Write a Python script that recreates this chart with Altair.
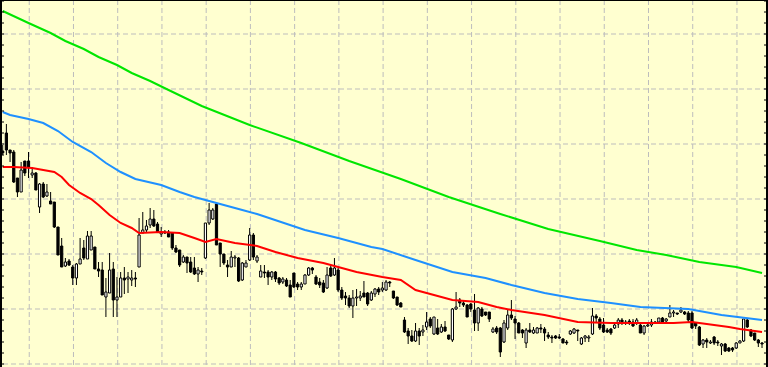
import altair as alt
import pandas as pd

# OHLC prices, one entry per bar (left to right)
opens = [1.2213,1.2231,1.2214,1.2212,1.2186,1.2172,1.2203,1.2203,1.2189,1.2191,
         1.2157,1.2180,1.2168,1.2163,1.2162,1.2137,1.2118,1.2098,1.2103,1.2097,
         1.2086,1.2100,1.2116,1.2105,1.2114,1.2117,1.2095,1.2094,1.2067,1.2071,
         1.2095,1.2064,1.2067,1.2086,1.2085,1.2084,1.2086,1.2097,1.2131,1.2134,
         1.2139,1.2145,1.2140,1.2130,1.2132,1.2132,1.2131,1.2116,1.2114,1.2102,
         1.2107,1.2102,1.2096,1.2090,1.2093,1.2106,1.2141,1.2145,1.2160,1.2121,
         1.2110,1.2099,1.2097,1.2106,1.2106,1.2084,1.2097,1.2104,1.2129,1.2103,
         1.2087,1.2092,1.2092,1.2087,1.2092,1.2086,1.2082,1.2084,1.2079,1.2091,
         1.2080,1.2077,1.2080,1.2089,1.2096,1.2087,1.2082,1.2081,1.2076,1.2096,
         1.2089,1.2094,1.2074,1.2068,1.2066,1.2058,1.2066,1.2066,1.2071,1.2071,
         1.2064,1.2070,1.2075,1.2074,1.2074,1.2082,1.2073,1.2067,1.2061,1.2044,
         1.2033,1.2028,1.2023,1.2033,1.2032,1.2037,1.2045,1.2030,1.2036,1.2032,
         1.2037,1.2029,1.2024,1.2055,1.2064,1.2061,1.2059,1.2060,1.2054,1.2041,
         1.2055,1.2052,1.2052,1.2032,1.2036,1.2036,1.2022,1.2036,1.2049,1.2045,
         1.2041,1.2034,1.2021,1.2034,1.2031,1.2031,1.2036,1.2035,1.2029,1.2027,
         1.2028,1.2027,1.2025,1.2022,1.2030,1.2031,1.2034,1.2020,1.2026,1.2026,
         1.2030,1.2048,1.2045,1.2039,1.2034,1.2035,1.2036,1.2040,1.2044,1.2041,
         1.2043,1.2042,1.2041,1.2039,1.2031,1.2038,1.2039,1.2042,1.2042,1.2046,
         1.2043,1.2047,1.2051,1.2051,1.2052,1.2052,1.2051,1.2051,1.2041,1.2037,
         1.2020,1.2024,1.2021,1.2027,1.2022,1.2018,1.2020,1.2016,1.2016,1.2016,
         1.2021,1.2023,1.2044,1.2034,1.2031,1.2024,1.2021]
highs = [1.2219,1.2240,1.2214,1.2214,1.2186,1.2202,1.2203,1.2212,1.2197,1.2192,
         1.2181,1.2182,1.2180,1.2172,1.2162,1.2137,1.2126,1.2106,1.2105,1.2099,
         1.2101,1.2126,1.2124,1.2133,1.2133,1.2117,1.2102,1.2102,1.2086,1.2111,
         1.2102,1.2087,1.2092,1.2097,1.2092,1.2094,1.2092,1.2146,1.2152,1.2144,
         1.2156,1.2154,1.2142,1.2137,1.2134,1.2134,1.2132,1.2119,1.2114,1.2109,
         1.2107,1.2107,1.2107,1.2097,1.2096,1.2141,1.2161,1.2156,1.2161,1.2121,
         1.2110,1.2104,1.2113,1.2109,1.2107,1.2102,1.2104,1.2136,1.2131,1.2109,
         1.2099,1.2099,1.2094,1.2093,1.2093,1.2087,1.2087,1.2086,1.2084,1.2091,
         1.2082,1.2082,1.2090,1.2097,1.2097,1.2089,1.2086,1.2084,1.2097,1.2099,
         1.2106,1.2096,1.2077,1.2072,1.2069,1.2074,1.2075,1.2073,1.2083,1.2072,
         1.2073,1.2076,1.2077,1.2082,1.2084,1.2083,1.2073,1.2067,1.2062,1.2047,
         1.2036,1.2034,1.2041,1.2036,1.2039,1.2052,1.2047,1.2047,1.2045,1.2040,
         1.2043,1.2029,1.2056,1.2072,1.2066,1.2064,1.2060,1.2061,1.2070,1.2057,
         1.2057,1.2052,1.2052,1.2037,1.2038,1.2037,1.2044,1.2054,1.2064,1.2048,
         1.2042,1.2035,1.2036,1.2041,1.2037,1.2037,1.2040,1.2037,1.2032,1.2029,
         1.2029,1.2030,1.2026,1.2024,1.2034,1.2036,1.2034,1.2027,1.2029,1.2029,
         1.2056,1.2050,1.2047,1.2046,1.2036,1.2036,1.2041,1.2046,1.2046,1.2044,
         1.2045,1.2045,1.2046,1.2041,1.2039,1.2041,1.2045,1.2043,1.2046,1.2047,
         1.2046,1.2059,1.2054,1.2051,1.2057,1.2053,1.2053,1.2053,1.2042,1.2038,
         1.2025,1.2026,1.2024,1.2028,1.2024,1.2021,1.2021,1.2017,1.2017,1.2022,
         1.2024,1.2045,1.2045,1.2035,1.2031,1.2025,1.2022]
lows = [1.2209,1.2209,1.2202,1.2181,1.2167,1.2172,1.2188,1.2186,1.2186,1.2174,
        1.2151,1.2166,1.2167,1.2160,1.2136,1.2109,1.2097,1.2097,1.2098,1.2079,
        1.2079,1.2100,1.2104,1.2105,1.2114,1.2095,1.2087,1.2069,1.2047,1.2071,
        1.2047,1.2047,1.2067,1.2070,1.2071,1.2078,1.2077,1.2097,1.2131,1.2132,
        1.2136,1.2137,1.2131,1.2127,1.2130,1.2127,1.2114,1.2111,1.2097,1.2101,
        1.2091,1.2091,1.2089,1.2082,1.2089,1.2105,1.2139,1.2144,1.2119,1.2097,
        1.2099,1.2087,1.2097,1.2097,1.2082,1.2083,1.2097,1.2103,1.2104,1.2101,
        1.2087,1.2086,1.2079,1.2084,1.2082,1.2079,1.2080,1.2077,1.2067,1.2076,
        1.2074,1.2074,1.2080,1.2088,1.2090,1.2079,1.2076,1.2071,1.2075,1.2087,
        1.2088,1.2072,1.2064,1.2059,1.2056,1.2046,1.2058,1.2063,1.2067,1.2058,
        1.2063,1.2067,1.2069,1.2072,1.2073,1.2077,1.2065,1.2058,1.2057,1.2031,
        1.2020,1.2022,1.2022,1.2019,1.2028,1.2034,1.2036,1.2029,1.2029,1.2031,
        1.2032,1.2024,1.2022,1.2054,1.2057,1.2057,1.2047,1.2052,1.2033,1.2033,
        1.2047,1.2048,1.2042,1.2031,1.2030,1.2007,1.2021,1.2034,1.2044,1.2025,
        1.2031,1.2026,1.2016,1.2031,1.2030,1.2031,1.2031,1.2023,1.2025,1.2021,
        1.2025,1.2025,1.2021,1.2019,1.2029,1.2030,1.2023,1.2019,1.2022,1.2022,
        1.2029,1.2042,1.2034,1.2031,1.2031,1.2029,1.2035,1.2036,1.2039,1.2039,
        1.2039,1.2037,1.2039,1.2031,1.2029,1.2037,1.2037,1.2041,1.2041,1.2041,
        1.2042,1.2047,1.2047,1.2049,1.2051,1.2049,1.2042,1.2035,1.2035,1.2018,
        1.2016,1.2016,1.2020,1.2019,1.2018,1.2009,1.2012,1.2012,1.2012,1.2015,
        1.2021,1.2022,1.2036,1.2027,1.2023,1.2017,1.2016]
closes = [1.2211,1.2214,1.2211,1.2182,1.2172,1.2194,1.2191,1.2197,1.2191,1.2174,
          1.2180,1.2167,1.2172,1.2160,1.2137,1.2109,1.2097,1.2102,1.2099,1.2086,
          1.2100,1.2105,1.2106,1.2128,1.2128,1.2095,1.2093,1.2069,1.2072,1.2094,
          1.2064,1.2067,1.2086,1.2084,1.2087,1.2086,1.2085,1.2129,1.2134,1.2138,
          1.2145,1.2138,1.2132,1.2132,1.2131,1.2127,1.2116,1.2112,1.2099,1.2107,
          1.2101,1.2092,1.2090,1.2094,1.2092,1.2141,1.2154,1.2154,1.2119,1.2110,
          1.2101,1.2097,1.2107,1.2107,1.2083,1.2101,1.2101,1.2129,1.2107,1.2107,
          1.2093,1.2091,1.2087,1.2092,1.2085,1.2081,1.2085,1.2078,1.2067,1.2077,
          1.2077,1.2080,1.2089,1.2096,1.2094,1.2080,1.2079,1.2072,1.2089,1.2088,
          1.2096,1.2074,1.2066,1.2066,1.2058,1.2066,1.2067,1.2068,1.2067,1.2060,
          1.2071,1.2075,1.2072,1.2076,1.2082,1.2081,1.2066,1.2059,1.2057,1.2032,
          1.2028,1.2023,1.2033,1.2028,1.2034,1.2042,1.2038,1.2047,1.2030,1.2037,
          1.2033,1.2025,1.2055,1.2057,1.2061,1.2059,1.2047,1.2055,1.2041,1.2056,
          1.2048,1.2049,1.2045,1.2035,1.2032,1.2012,1.2041,1.2049,1.2046,1.2041,
          1.2031,1.2031,1.2034,1.2032,1.2034,1.2036,1.2035,1.2031,1.2027,1.2026,
          1.2026,1.2026,1.2021,1.2021,1.2033,1.2035,1.2033,1.2026,1.2028,1.2027,
          1.2048,1.2046,1.2036,1.2032,1.2032,1.2031,1.2039,1.2044,1.2041,1.2042,
          1.2042,1.2038,1.2044,1.2031,1.2038,1.2039,1.2042,1.2041,1.2046,1.2042,
          1.2045,1.2051,1.2052,1.2050,1.2054,1.2050,1.2044,1.2036,1.2038,1.2019,
          1.2024,1.2022,1.2022,1.2021,1.2021,1.2020,1.2013,1.2013,1.2014,1.2021,
          1.2023,1.2045,1.2037,1.2028,1.2024,1.2021,1.2020]

# Moving averages: bar index and value
green_idx = [0, 7, 13, 17, 22, 26, 31, 35, 40, 45, 54, 67, 81, 94, 108, 121, 135, 148,
             162, 172, 180, 189, 199, 206]
green_val = [1.2353, 1.2341, 1.2331, 1.2323, 1.2315, 1.2307, 1.2299, 1.2291, 1.2283,
             1.2274, 1.2258, 1.2239, 1.2221, 1.2203, 1.2185, 1.2167, 1.2150, 1.2135,
             1.2123, 1.2114, 1.2109, 1.2102, 1.2097, 1.2091]
blue_idx = [0, 2, 7, 11, 15, 19, 24, 28, 32, 36, 43, 48, 52, 56, 59, 65, 69, 82, 91, 96,
            100, 103, 112, 122, 131, 138, 147, 156, 165, 173, 186, 195, 206]
blue_val = [1.2252, 1.2249, 1.2245, 1.2241, 1.2233, 1.2222, 1.2212, 1.2201, 1.2192,
            1.2185, 1.2179, 1.2172, 1.2167, 1.2163, 1.2160, 1.2154, 1.2150, 1.2134,
            1.2126, 1.2121, 1.2117, 1.2115, 1.2104, 1.2092, 1.2086, 1.2079, 1.2071,
            1.2065, 1.2061, 1.2057, 1.2055, 1.2049, 1.2044]
red_idx = [0, 3, 8, 11, 14, 16, 18, 21, 24, 26, 29, 32, 35, 37, 43, 48, 52, 55, 58, 63,
           69, 74, 80, 87, 91, 96, 103, 108, 112, 117, 122, 129, 134, 138, 147, 156, 165,
           173, 182, 187, 191, 197, 200, 206]
red_val = [1.2197, 1.2197, 1.2196, 1.2194, 1.2192, 1.2187, 1.2179, 1.2171, 1.2165,
           1.2159, 1.2149, 1.2141, 1.2136, 1.2131, 1.2132, 1.2131, 1.2126, 1.2122,
           1.2125, 1.2121, 1.2118, 1.2112, 1.2106, 1.2101, 1.2097, 1.2092, 1.2087,
           1.2084, 1.2074, 1.2069, 1.2064, 1.2062, 1.2057, 1.2054, 1.2049, 1.2042,
           1.2041, 1.2041, 1.2041, 1.2042, 1.2040, 1.2037, 1.2035, 1.2032]

# grid positions
hgrid = [1.2000, 1.2055, 1.2110, 1.2165, 1.2220, 1.2275, 1.2330]
vgrid = [7.2, 19.2, 31.2, 43.2, 55.2, 67.2, 79.2, 91.2, 103.2, 115.2, 127.2, 139.2,
         151.2, 163.2, 175.2, 187.2, 199.2]
ticks = [round(1.2000 + 0.0011 * k, 4) for k in range(34)]

W, H = 768, 367
xs = alt.Scale(domain=[-0.733, 207.62], nice=False, zero=False)
ys = alt.Scale(domain=[1.1997, 1.2364], nice=False, zero=False)

candles = pd.DataFrame({"i": list(range(len(opens))), "open": opens, "high": highs,
                        "low": lows, "close": closes})

grid_h = alt.Chart(pd.DataFrame({"v": hgrid})).mark_rule(
    color="#BDBDBD", strokeWidth=1, strokeDash=[5, 3]
).encode(y=alt.Y("v:Q", scale=ys, axis=None))

grid_v = alt.Chart(pd.DataFrame({"i": vgrid})).mark_rule(
    color="#BDBDBD", strokeWidth=1, strokeDash=[5, 3]
).encode(x=alt.X("i:Q", scale=xs, axis=None))

wicks = alt.Chart(candles).mark_rule(color="black", strokeWidth=1).encode(
    x=alt.X("i:Q", scale=xs, axis=None),
    y=alt.Y("low:Q", scale=ys, axis=None),
    y2="high:Q",
)

bodies = alt.Chart(candles).transform_calculate(
    x1="datum.i - 0.3", x2="datum.i + 0.3"
).mark_rect(stroke="black", strokeWidth=1).encode(
    x=alt.X("x1:Q", scale=xs, axis=None),
    x2="x2:Q",
    y=alt.Y("open:Q", scale=ys, axis=None),
    y2="close:Q",
    fill=alt.condition("datum.close > datum.open", alt.value("white"), alt.value("black")),
)

def ma_line(idx, val, color):
    return alt.Chart(pd.DataFrame({"i": idx, "v": val})).mark_line(
        color=color, strokeWidth=2
    ).encode(
        x=alt.X("i:Q", scale=xs, axis=None),
        y=alt.Y("v:Q", scale=ys, axis=None),
    )

green = ma_line(green_idx, green_val, "#00E600")
blue = ma_line(blue_idx, blue_val, "#1E90FF")
red = ma_line(red_idx, red_val, "#FF0000")

tick_df = pd.DataFrame({"t": ticks})
tick_left = alt.Chart(tick_df).mark_rule(color="black", strokeWidth=1).encode(
    y=alt.Y("t:Q", scale=ys, axis=None), x=alt.value(0), x2=alt.value(4))
tick_right = alt.Chart(tick_df).mark_rule(color="black", strokeWidth=1).encode(
    y=alt.Y("t:Q", scale=ys, axis=None), x=alt.value(764), x2=alt.value(W))

one = alt.Data(values=[{}])
border_top = alt.Chart(one).mark_rule(color="black", strokeWidth=1).encode(
    x=alt.value(0), x2=alt.value(W), y=alt.value(0.5))
border_left = alt.Chart(one).mark_rule(color="black", strokeWidth=2).encode(
    x=alt.value(1), y=alt.value(0), y2=alt.value(H))
border_right = alt.Chart(one).mark_rule(color="black", strokeWidth=2).encode(
    x=alt.value(767), y=alt.value(0), y2=alt.value(H))

chart = alt.layer(
    grid_h, grid_v, wicks, bodies, green, blue, red,
    tick_left, tick_right, border_top, border_left, border_right
).properties(
    width=W, height=H, padding=0, autosize="none", background="#FFFFD0"
).configure_view(stroke=None)

chart.save("out.html", embed_options={"renderer": "svg", "actions": False})
